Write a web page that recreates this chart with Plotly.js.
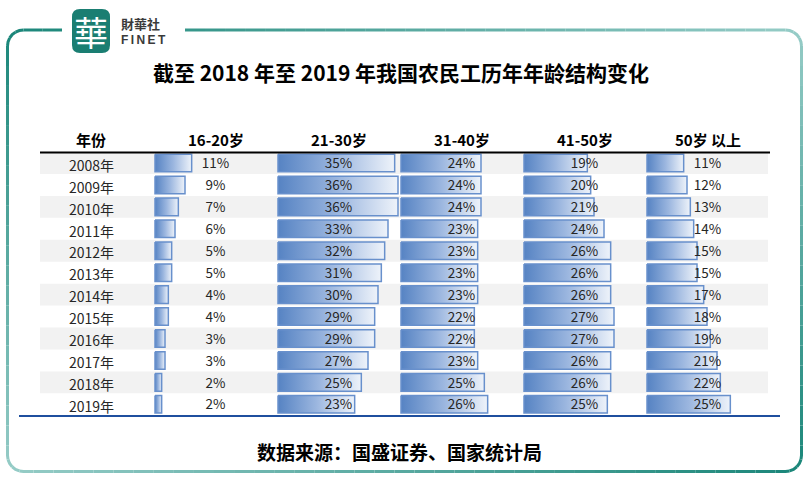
<!DOCTYPE html>
<html><head><meta charset="utf-8">
<script src="https://cdn.plot.ly/plotly-3.0.1.min.js"></script>
<style>body{margin:0;background:#fff}</style>
</head><body><div id="chart" style="width:811px;height:483px"></div>
<script>
// ---------------- data ----------------
const years = ['2008年','2009年','2010年','2011年','2012年','2013年','2014年','2015年','2016年','2017年','2018年','2019年'];
const ageGroups = ['16-20岁','21-30岁','31-40岁','41-50岁','50岁 以上'];
const age16_20 = [11,9,7,6,5,5,4,4,3,3,2,2];
const age21_30 = [35,36,36,33,32,31,30,29,29,27,25,23];
const age31_40 = [24,24,24,23,23,23,23,22,22,23,25,26];
const age41_50 = [19,20,21,24,26,26,26,27,27,26,26,25];
const age50plus = [11,12,13,14,15,15,17,18,19,21,22,25];
const yearHeader = '年份';
const titleText = '截至 2018 年至 2019 年我国农民工历年年龄结构变化';
const sourceText = '数据来源：国盛证券、国家统计局';

// ---------------- layout helpers ----------------
const W = 811, H = 483;
const px = x => x / W;
const py = y => 1 - y / H;
const FONT = '"Noto Sans CJK SC", "Noto Sans", sans-serif';
const series = [age16_20, age21_30, age31_40, age41_50, age50plus];
const colStart = [154, 277, 400, 523, 646];
const colW = 123;
const xRange = [-0.3, 36.6];
const xMid = (xRange[0] + xRange[1]) / 2;
const barHalf = 0.4;

const traces = [];
const layout = {
  width: W, height: H,
  margin: {l: 0, r: 0, t: 0, b: 0},
  paper_bgcolor: '#ffffff',
  plot_bgcolor: 'rgba(0,0,0,0)',
  showlegend: false,
  title: {text: '<b>' + titleText + '</b>', x: px(401), xanchor: 'center', y: py(74), yanchor: 'middle',
          font: {family: FONT, size: 21, color: '#000'}},
  yaxis: {domain: [py(415.3), py(152)], range: [years.length - 0.5, -0.5], visible: false, fixedrange: true},
  shapes: [],
  annotations: []
};

function ann(o) {
  return Object.assign({showarrow: false, xanchor: 'center', yanchor: 'middle'}, o);
}

series.forEach((vals, c) => {
  const ax = c === 0 ? 'x' : 'x' + (c + 1);
  const key = c === 0 ? 'xaxis' : 'xaxis' + (c + 1);
  layout[key] = {domain: [px(colStart[c]), px(colStart[c] + colW)], range: xRange, visible: false,
                 anchor: 'y', fixedrange: true};
  vals.forEach((v, i) => {
    traces.push({
      type: 'scatter', mode: 'lines', xaxis: ax, yaxis: 'y',
      x: [0, v, v, 0, 0],
      y: [i - barHalf, i - barHalf, i + barHalf, i + barHalf, i - barHalf],
      fill: 'toself',
      fillgradient: {type: 'horizontal', start: 0, stop: v,
                     colorscale: [[0, '#5683c3'], [0.5, '#9bb6df'], [1, '#eef3fa']]},
      line: {color: '#6890cc', width: 1.5},
      hoverinfo: 'skip'
    });
  });
  traces.push({
    type: 'scatter', mode: 'text', xaxis: ax, yaxis: 'y',
    x: vals.map(() => xMid), y: vals.map((v, i) => i + 0.08),
    text: vals.map(v => v + '%'),
    textfont: {family: FONT, size: 13.5, color: '#262626'},
    cliponaxis: false, hoverinfo: 'skip'
  });
  layout.annotations.push(ann({
    xref: ax, yref: 'paper', x: xMid, y: py(140), text: '<b>' + ageGroups[c] + '</b>',
    font: {family: FONT, size: 15, color: '#000'}
  }));
});

// year column
layout.annotations.push(ann({xref: 'paper', yref: 'paper', x: px(91), y: py(140), text: '<b>' + yearHeader + '</b>',
  font: {family: FONT, size: 15, color: '#000'}}));
years.forEach((yr, i) => {
  layout.annotations.push(ann({xref: 'paper', yref: 'y', x: px(91), y: i + 0.08, text: yr,
    font: {family: FONT, size: 14, color: '#262626'}}));
  if (i % 2 === 0) {
    layout.shapes.push({type: 'rect', xref: 'paper', yref: 'y', x0: px(40), x1: px(768), y0: i - 0.5, y1: i + 0.5,
      fillcolor: '#f2f2f2', line: {width: 0}, layer: 'below'});
  }
});

// table rules
layout.shapes.push({type: 'line', xref: 'paper', yref: 'paper', x0: px(40), x1: px(770), y0: py(152.5), y1: py(152.5),
  line: {color: '#000', width: 2}});
layout.shapes.push({type: 'line', xref: 'paper', yref: 'paper', x0: px(19), x1: px(780), y0: py(416), y1: py(416),
  line: {color: '#1f4f9e', width: 2}});

// source
layout.annotations.push(ann({xref: 'paper', yref: 'paper', x: px(399), y: py(451), text: '<b>' + sourceText + '</b>',
  font: {family: FONT, size: 19, color: '#000'}}));

// frame (rounded, teal gradient segments)
(function () {
  const x0 = 7.5, y0 = 30, x1 = 801.5, y1 = 471.5, r = 16, step = 10;
  const pts = [];
  function line(ax, ay, bx, by) {
    const n = Math.max(1, Math.round(Math.hypot(bx - ax, by - ay) / step));
    for (let k = 0; k < n; k++) pts.push([ax + (bx - ax) * k / n, ay + (by - ay) * k / n]);
  }
  function arc(cx, cy, a0, a1) {
    const n = 6;
    for (let k = 0; k < n; k++) {
      const a = (a0 + (a1 - a0) * k / n) * Math.PI / 180;
      pts.push([cx + r * Math.cos(a), cy + r * Math.sin(a)]);
    }
  }
  line(185, y0, x1 - r, y0);
  arc(x1 - r, y0 + r, -90, 0);
  line(x1, y0 + r, x1, y1 - r);
  arc(x1 - r, y1 - r, 0, 90);
  line(x1 - r, y1, x0 + r, y1);
  arc(x0 + r, y1 - r, 90, 180);
  line(x0, y1 - r, x0, y0 + r);
  arc(x0 + r, y0 + r, 180, 270);
  line(x0 + r, y0, 62, y0);
  pts.push([62, y0]);
  const dark = [26, 134, 121], light = [150, 204, 199];
  for (let k = 0; k + 1 < pts.length; k += 2) {
    const seg = pts.slice(k, Math.min(k + 3, pts.length));
    const m = seg[1] || seg[0];
    const u = (m[0] - x0) / (x1 - x0), v = (m[1] - y0) / (y1 - y0);
    const t = Math.min(1, Math.abs(u - v));
    const col = 'rgb(' + dark.map((d, j) => Math.round(d + (light[j] - d) * t)).join(',') + ')';
    const path = 'M ' + seg.map(p => px(p[0]).toFixed(5) + ',' + py(p[1]).toFixed(5)).join(' L ');
    layout.shapes.push({type: 'path', xref: 'paper', yref: 'paper', path: path, line: {color: col, width: 3}});
  }
})();

// logo
(function () {
  const lx0 = 72, lx1 = 110, ly0 = 9, ly1 = 53, rr = 8;
  const path = 'M ' + px(lx0 + rr) + ',' + py(ly0) +
    ' L ' + px(lx1 - rr) + ',' + py(ly0) + ' Q ' + px(lx1) + ',' + py(ly0) + ' ' + px(lx1) + ',' + py(ly0 + rr) +
    ' L ' + px(lx1) + ',' + py(ly1 - rr) + ' Q ' + px(lx1) + ',' + py(ly1) + ' ' + px(lx1 - rr) + ',' + py(ly1) +
    ' L ' + px(lx0 + rr) + ',' + py(ly1) + ' Q ' + px(lx0) + ',' + py(ly1) + ' ' + px(lx0) + ',' + py(ly1 - rr) +
    ' L ' + px(lx0) + ',' + py(ly0 + rr) + ' Q ' + px(lx0) + ',' + py(ly0) + ' ' + px(lx0 + rr) + ',' + py(ly0) + ' Z';
  layout.shapes.push({type: 'path', xref: 'paper', yref: 'paper', path: path, fillcolor: '#1a7e72', line: {width: 0}});
  layout.annotations.push(ann({xref: 'paper', yref: 'paper', x: px(91), y: py(31), text: '華',
    font: {family: '"Noto Sans CJK TC", sans-serif', size: 34, color: '#ffffff'}}));
  layout.annotations.push(ann({xref: 'paper', yref: 'paper', x: px(119), y: py(23), xanchor: 'left', text: '<b>財華社</b>',
    font: {family: '"Noto Sans CJK TC", sans-serif', size: 13, color: '#3a3a3a'}}));
  layout.annotations.push(ann({xref: 'paper', yref: 'paper', x: px(119), y: py(40), xanchor: 'left',
    text: '<b>F\u2009I\u2009N\u2009E\u2009T</b>',
    font: {family: '"Liberation Sans", Arial, sans-serif', size: 12, color: '#3a3a3a'}}));
})();

Plotly.newPlot('chart', traces, layout, {displayModeBar: false, staticPlot: true});
</script>
</body></html>
